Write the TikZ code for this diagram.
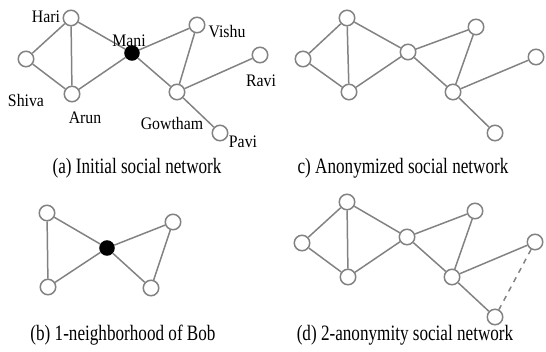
\documentclass[tikz,border=0pt]{standalone}
\usepackage{fontspec}
\setmainfont{Liberation Serif}
\usetikzlibrary{arrows.meta}
\definecolor{edgegray}{RGB}{130,130,130}

\begin{document}
\begin{tikzpicture}[x=0.02cm,y=-0.02cm,
  vtx/.style={circle,draw=edgegray,fill=white,line width=0.85pt,minimum size=0.31cm,inner sep=0pt},
  bob/.style={vtx,draw=black,fill=black,minimum size=0.28cm},
  edge/.style={draw=edgegray,line width=0.85pt},
  vlabel/.style={font=\fontsize{10}{11}\selectfont,xscale=0.9,transform shape},
  captxt/.style={font=\fontsize{12.5}{13}\selectfont,xscale=0.78,transform shape}]
\useasboundingbox (0,0) rectangle (546,351);
% (a) initial network
\foreach \n/\x/\y in {hari/71/18,shiva/26/59,arun/72/94,vishu/197/25,gowtham/177/92,ravi/260/55,pavi/220/133}{
  \node[vtx] (a-\n) at (\x,\y) {};
}
\node[bob] (a-mani) at (132,53) {};
\foreach \u/\v in {hari/shiva,hari/arun,hari/mani,shiva/arun,arun/mani,mani/vishu,mani/gowtham,vishu/gowtham,gowtham/ravi,gowtham/pavi}{
  \draw[edge] (a-\u) -- (a-\v);
}
\node[vlabel] (l-hari) at (46,17) {Hari};
\node[vlabel] (l-mani) at (129,41) {Mani};
\node[vlabel] (l-vishu) at (227,32) {Vishu};
\node[vlabel] (l-shiva) at (26,100) {Shiva};
\node[vlabel] (l-arun) at (85,118) {Arun};
\node[vlabel] (l-gowtham) at (172,123) {Gowtham};
\node[vlabel] (l-ravi) at (261,81) {Ravi};
\node[vlabel] (l-pavi) at (243,142) {Pavi};
\node[captxt] (cap-a) at (137,168) {(a) Initial social network};
% (c) anonymized network
\foreach \n/\x/\y in {shiva/303/59,hari/347/18,arun/349/92,mani/408/52,vishu/476/27,gowtham/453/92,ravi/536/57,pavi/495/133}{
  \node[vtx] (c-\n) at (\x,\y) {};
}
\foreach \u/\v in {hari/shiva,hari/arun,hari/mani,shiva/arun,arun/mani,mani/vishu,mani/gowtham,vishu/gowtham,gowtham/ravi,gowtham/pavi}{
  \draw[edge] (c-\u) -- (c-\v);
}
\node[captxt] (cap-c) at (403,168) {c) Anonymized social network};
% (b) neighborhood of Bob
\node[bob] (b-bob) at (107,248) {};
\foreach \n/\x/\y in {tl/47/213,bl/48/287,tr/173/222,br/151/288}{
  \node[vtx] (b-\n) at (\x,\y) {};
}
\foreach \u/\v in {tl/bl,tl/bob,bl/bob,bob/tr,bob/br,tr/br}{
  \draw[edge] (b-\u) -- (b-\v);
}
\node[captxt] (cap-b) at (123,335) {(b) 1-neighborhood of Bob};
% (d) 2-anonymity network
\foreach \n/\x/\y in {shiva/302/243,hari/347/202,arun/348/277,mani/407/237,vishu/475/211,gowtham/452/277,ravi/535/242,pavi/495/317}{
  \node[vtx] (d-\n) at (\x,\y) {};
}
\foreach \u/\v in {hari/shiva,hari/arun,hari/mani,shiva/arun,arun/mani,mani/vishu,mani/gowtham,vishu/gowtham,gowtham/ravi,gowtham/pavi}{
  \draw[edge] (d-\u) -- (d-\v);
}
\draw[edge,dashed] (d-ravi) -- (d-pavi);
\node[captxt] (cap-d) at (405,335) {(d) 2-anonymity social network};
\end{tikzpicture}
\end{document}
